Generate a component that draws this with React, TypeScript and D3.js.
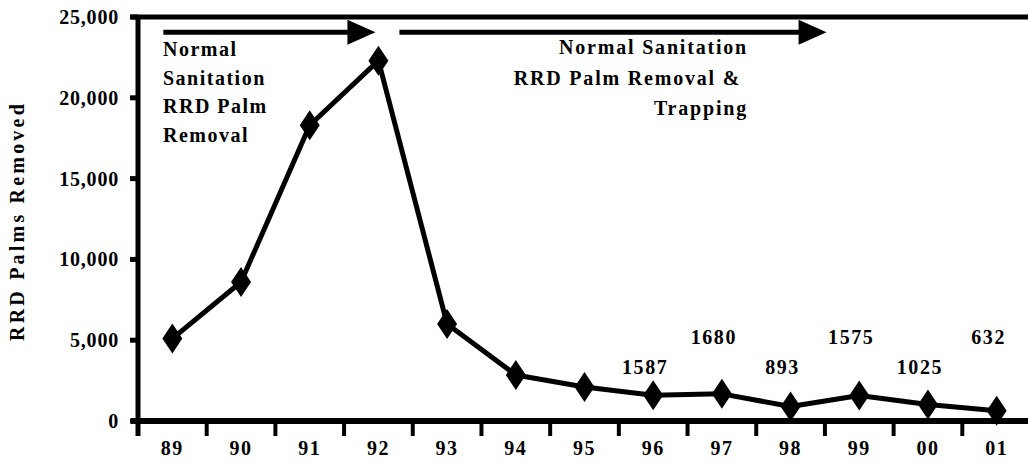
import React from "react";
import * as d3 from "d3";

// years along the bottom
const years = ["89", "90", "91", "92", "93", "94", "95", "96", "97", "98", "99", "00", "01"];
// RRD palms removed per year
const removed = [5100, 8600, 18300, 22300, 6000, 2850, 2100, 1587, 1680, 893, 1575, 1025, 632];
// labelled values (last six years), row 0 = lower row, row 1 = upper row
const labelYears = ["96", "97", "98", "99", "00", "01"];
const labelRow = [0, 1, 0, 1, 0, 1];
const yTicks = [0, 5000, 10000, 15000, 20000, 25000];

const leftNote = ["Normal", "Sanitation", "RRD Palm", "Removal"];
const rightNote = ["Normal Sanitation", "RRD Palm Removal & ", "Trapping"];

const W = 1028, H = 463;
const font = "'Liberation Serif', 'Times New Roman', serif";

export default function App() {
  const x = d3.scaleBand<string>().domain(years).range([138, 1031]).padding(0);
  const y = d3.scaleLinear().domain([0, 25000]).range([421, 17]);
  const cx = (yr: string) => (x(yr) as number) + x.bandwidth() / 2;
  const fmt = d3.format(",");

  const line = d3.line<number>()
    .x((d, i) => cx(years[i]))
    .y(d => y(d));

  const diamond = (px: number, py: number) =>
    `M${px},${py - 15}L${px + 10},${py}L${px},${py + 15}L${px - 10},${py}Z`;

  const arrow = (x0: number, x1: number, ay: number, half: number) => {
    const hl = 28;
    return {
      shaft: [x0, x1 - hl + 2, ay],
      head: `M${x1 - hl},${ay - half}L${x1},${ay}L${x1 - hl},${ay + half}Z`,
    };
  };
  const a1 = arrow(cx("89") - 9, cx("92") - 3, y(24050), 12.5);
  const a2 = arrow(cx("92") + 21, cx("98") + 36, y(24050), 12.5);

  const textStyle: React.CSSProperties = { fontFamily: font, fontWeight: "bold", fontSize: 20 };

  return (
    <svg width={W} height={H} style={{ position: "absolute", left: 0, top: 0, background: "#fff" }}>
      {/* top frame */}
      <line x1={131} x2={W} y1={y(25000)} y2={y(25000)} stroke="#000" strokeWidth={5} />
      {/* y axis */}
      <line x1={138} x2={138} y1={y(25000) - 2} y2={y(0) + 15} stroke="#000" strokeWidth={5} />
      {yTicks.map(t => (
        <g key={t}>
          <line x1={130} x2={138} y1={y(t)} y2={y(t)} stroke="#000" strokeWidth={5} />
          <text x={119} y={y(t)} dy="0.35em" textAnchor="end" style={{ ...textStyle, letterSpacing: 0.8 }}>
            {fmt(t)}
          </text>
        </g>
      ))}
      {/* x axis */}
      <line x1={131} x2={W} y1={y(0)} y2={y(0)} stroke="#000" strokeWidth={6} />
      {years.slice(1).map(yr => (
        <line key={yr} x1={x(yr) as number} x2={x(yr) as number} y1={y(0)} y2={y(0) + 15} stroke="#000" strokeWidth={4} />
      ))}
      {years.map(yr => (
        <text key={yr} x={cx(yr)} y={455} textAnchor="middle" style={{ ...textStyle, letterSpacing: 1.5 }}>
          {yr}
        </text>
      ))}
      {/* y axis title */}
      <text
        transform={`translate(24,221) rotate(-90)`}
        textAnchor="middle"
        style={{ ...textStyle, fontSize: 20, letterSpacing: 3.2 }}
      >
        RRD Palms Removed
      </text>

      {/* series */}
      <path d={line(removed) || ""} fill="none" stroke="#000" strokeWidth={5} strokeLinejoin="round" />
      {removed.map((v, i) => (
        <path key={i} d={diamond(cx(years[i]), y(v))} fill="#000" />
      ))}

      {/* value labels */}
      {labelYears.map((yr, i) => (
        <text
          key={yr}
          x={cx(yr) - 8}
          y={labelRow[i] ? y(0) - 77 : y(0) - 47}
          textAnchor="middle"
          style={{ ...textStyle, letterSpacing: 1.6 }}
        >
          {removed[years.indexOf(yr)]}
        </text>
      ))}

      {/* arrows */}
      {[a1, a2].map((a, i) => (
        <g key={i}>
          <line x1={a.shaft[0]} x2={a.shaft[1]} y1={a.shaft[2]} y2={a.shaft[2]} stroke="#000" strokeWidth={5} />
          <path d={a.head} fill="#000" />
        </g>
      ))}

      {/* notes */}
      {leftNote.map((t, i) => (
        <text key={t} x={163} y={56 + i * 28.7} style={{ ...textStyle, letterSpacing: 1.5 }}>
          {t}
        </text>
      ))}
      {rightNote.map((t, i) => (
        <text key={t} x={748} y={54 + i * 30.5} textAnchor="end" style={{ ...textStyle, letterSpacing: 1.8, whiteSpace: "pre" }}>
          {t}
        </text>
      ))}
    </svg>
  );
}
